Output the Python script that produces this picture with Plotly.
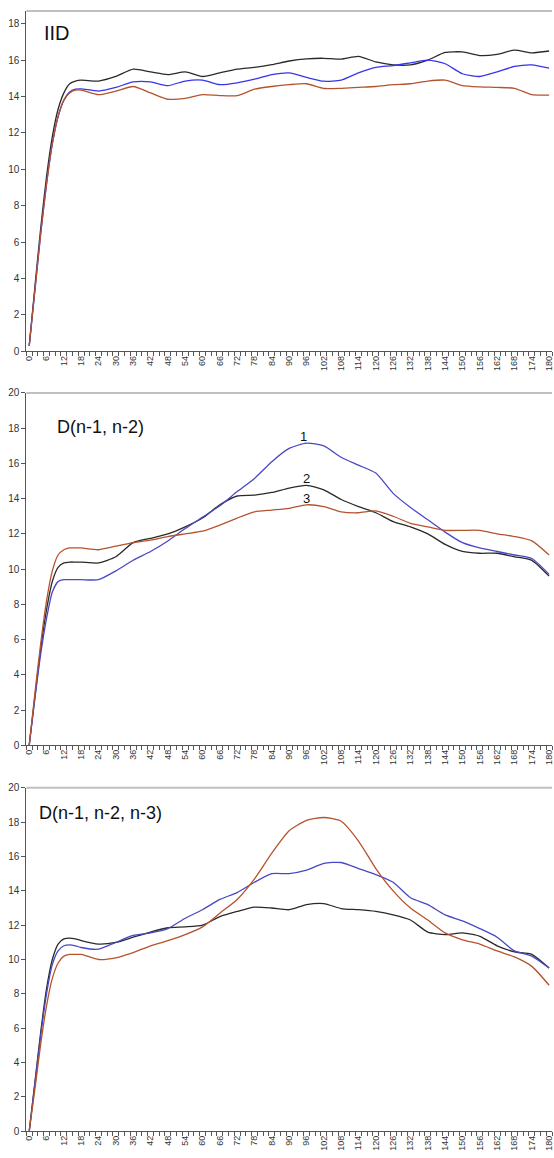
import plotly.graph_objects as go

# shared category positions (lag values)
cats = [0, 2, 4, 6, 8, 10, 12, 14, 16, 18, 24, 30, 36, 42, 48, 54, 60, 66, 72, 78, 84,
        90, 96, 102, 108, 114, 120, 126, 132, 138, 144, 150, 156, 162, 168, 174, 180]

# Panel 1: IID
iid_black = [0.3, 3.6, 6.8, 9.6, 11.8, 13.3, 14.2, 14.7, 14.85, 14.9, 14.85, 15.1, 15.5, 15.35, 15.2,
             15.35, 15.1, 15.3, 15.5, 15.6, 15.75, 15.95, 16.07, 16.1, 16.05, 16.2, 15.9, 15.74, 15.74,
             16.0, 16.42, 16.45, 16.25, 16.32, 16.55, 16.4, 16.5]
iid_blue = [0.3, 3.4, 6.5, 9.2, 11.4, 12.9, 13.8, 14.25, 14.4, 14.42, 14.3, 14.5, 14.8, 14.8, 14.6,
            14.85, 14.9, 14.65, 14.75, 14.95, 15.2, 15.3, 15.05, 14.84, 14.9, 15.3, 15.6, 15.7, 15.85,
            16.0, 15.8, 15.25, 15.1, 15.35, 15.65, 15.74, 15.56]
iid_brown = [0.3, 3.4, 6.5, 9.2, 11.4, 12.9, 13.8, 14.2, 14.35, 14.35, 14.1, 14.3, 14.55, 14.2, 13.85,
             13.9, 14.1, 14.05, 14.05, 14.4, 14.55, 14.65, 14.7, 14.44, 14.45, 14.5, 14.55, 14.65, 14.7,
             14.85, 14.9, 14.6, 14.53, 14.5, 14.45, 14.1, 14.08]

# Panel 2: D(n-1, n-2)
d2_blue = [0, 2.7, 5.2, 7.2, 8.7, 9.3, 9.4, 9.4, 9.4, 9.4, 9.4, 9.9, 10.5, 11.0, 11.6, 12.3, 12.95,
           13.6, 14.4, 15.15, 16.1, 16.85, 17.15, 17.0, 16.35, 15.9, 15.45, 14.3, 13.5, 12.8, 12.1,
           11.5, 11.2, 11.0, 10.8, 10.6, 9.7]
d2_black = [0, 2.8, 5.5, 7.7, 9.3, 10.1, 10.35, 10.4, 10.4, 10.4, 10.35, 10.7, 11.5, 11.75, 12.0,
            12.4, 12.9, 13.65, 14.15, 14.2, 14.35, 14.6, 14.75, 14.5, 13.95, 13.55, 13.2, 12.7, 12.4,
            12.0, 11.4, 11.0, 10.9, 10.9, 10.7, 10.5, 9.6]
d2_brown = [0, 3.0, 5.8, 8.2, 9.9, 10.8, 11.1, 11.2, 11.2, 11.2, 11.1, 11.3, 11.5, 11.65, 11.85,
            12.0, 12.15, 12.5, 12.9, 13.25, 13.35, 13.45, 13.65, 13.55, 13.25, 13.2, 13.3, 13.0, 12.6,
            12.4, 12.2, 12.2, 12.2, 12.0, 11.85, 11.6, 10.8]

# Panel 3: D(n-1, n-2, n-3)
d3_black = [0, 2.9, 5.8, 8.3, 10.0, 10.9, 11.2, 11.25, 11.2, 11.1, 10.9, 11.0, 11.3, 11.6, 11.85,
            11.9, 12.0, 12.5, 12.8, 13.05, 13.0, 12.9, 13.2, 13.26, 12.97, 12.9, 12.8, 12.6, 12.3,
            11.6, 11.45, 11.55, 11.35, 10.8, 10.45, 10.3, 9.5]
d3_blue = [0, 2.8, 5.6, 8.0, 9.7, 10.5, 10.8, 10.85, 10.8, 10.7, 10.6, 11.0, 11.4, 11.55, 11.8,
           12.4, 12.9, 13.5, 13.9, 14.5, 15.0, 15.0, 15.2, 15.6, 15.65, 15.3, 14.95, 14.5, 13.6,
           13.2, 12.6, 12.25, 11.8, 11.3, 10.5, 10.2, 9.5]
d3_brown = [0, 2.5, 5.1, 7.3, 8.9, 9.8, 10.2, 10.3, 10.3, 10.3, 10.0, 10.1, 10.4, 10.8, 11.1,
            11.45, 11.9, 12.7, 13.5, 14.7, 16.2, 17.5, 18.1, 18.27, 18.05, 16.9, 15.3, 14.0, 13.0,
            12.3, 11.55, 11.15, 10.9, 10.5, 10.15, 9.6, 8.5]

panel_titles = ["IID", "D(n-1, n-2)", "D(n-1, n-2, n-3)"]
curve_labels = ["1", "2", "3"]

BLACK = "#2a2a2a"
BLUES = ["#3535ee", "#4848c4", "#4848c4"]
BROWN = "#b4532e"

W, H = 554, 1158
def py(px):
    return 1 - px / H

x0 = 24.5 / W
domains = [(py(349), py(5)), (py(747), py(391)), (py(1137), py(790))]
yranges = [[0, 18.7], [0, 20], [0, 20]]

fig = go.Figure()
series = [
    [(iid_black, BLACK), (iid_blue, BLUES[0]), (iid_brown, BROWN)],
    [(d2_black, BLACK), (d2_blue, BLUES[1]), (d2_brown, BROWN)],
    [(d3_black, BLACK), (d3_blue, BLUES[2]), (d3_brown, BROWN)],
]
for i, group in enumerate(series):
    sx = "x" if i == 0 else f"x{i+1}"
    sy = "y" if i == 0 else f"y{i+1}"
    for vals, col in group:
        fig.add_trace(go.Scatter(x=cats, y=vals, mode="lines", xaxis=sx, yaxis=sy,
                                 line=dict(color=col, width=1.3, shape="spline", smoothing=0.6),
                                 showlegend=False, hoverinfo="skip"))

font_fam = "Liberation Sans, Arial, sans-serif"
layout = dict(width=W, height=H, margin=dict(l=0, r=0, t=0, b=0),
              paper_bgcolor="white", plot_bgcolor="white", showlegend=False,
              font=dict(family=font_fam, color="#222"))
for i in range(3):
    xk = "xaxis" if i == 0 else f"xaxis{i+1}"
    yk = "yaxis" if i == 0 else f"yaxis{i+1}"
    layout[xk] = dict(domain=[x0, 1], range=[-1, 181], anchor="y" if i == 0 else f"y{i+1}",
                      tickmode="linear", tick0=0, dtick=6, ticks="", tickangle=-90,
                      ticklabeloverflow="allow",
                      tickfont=dict(size=9, color="#333"), showgrid=False, zeroline=False,
                      showline=True, linecolor="#555", linewidth=1,
                      minor=dict(ticks="outside", tickmode="linear", tick0=-1, dtick=2,
                                 ticklen=4, tickcolor="#555", showgrid=False))
    layout[yk] = dict(domain=list(domains[i]), range=yranges[i], anchor="x" if i == 0 else f"x{i+1}",
                      tickmode="linear", tick0=0, dtick=2, ticks="outside", ticklen=4,
                      tickcolor="#555", tickfont=dict(size=10, color="#333"), showgrid=False,
                      zeroline=False, showline=True, linecolor="#555", linewidth=1)
fig.update_layout(**layout)

# top border lines in light gray
for i in range(3):
    fig.add_shape(type="line", xref="paper", yref="paper", x0=x0, x1=1,
                  y0=domains[i][1], y1=domains[i][1], line=dict(color="#c0c0c0", width=2))

# panel titles
title_pos = [(40, 27, 20), (53, 425, 18), (35, 815, 18)]
for t, (px_, pyy, fs) in zip(panel_titles, title_pos):
    fig.add_annotation(text=t, xref="paper", yref="paper", x=px_ / W, y=py(pyy),
                       xanchor="left", yanchor="middle", showarrow=False,
                       font=dict(size=fs, color="#111", family=font_fam))

# curve labels in panel 2
label_pos = [(95, 17.55), (96, 15.15), (96, 14.0)]
for t, (lx, ly) in zip(curve_labels, label_pos):
    fig.add_annotation(text=t, x=lx, y=ly, xref="x2", yref="y2", showarrow=False,
                       font=dict(size=13, color="#111", family=font_fam))

fig.write_html("out.html", config={"displayModeBar": False},
               post_script="document.body.style.margin='0';document.body.style.overflow='hidden';")
